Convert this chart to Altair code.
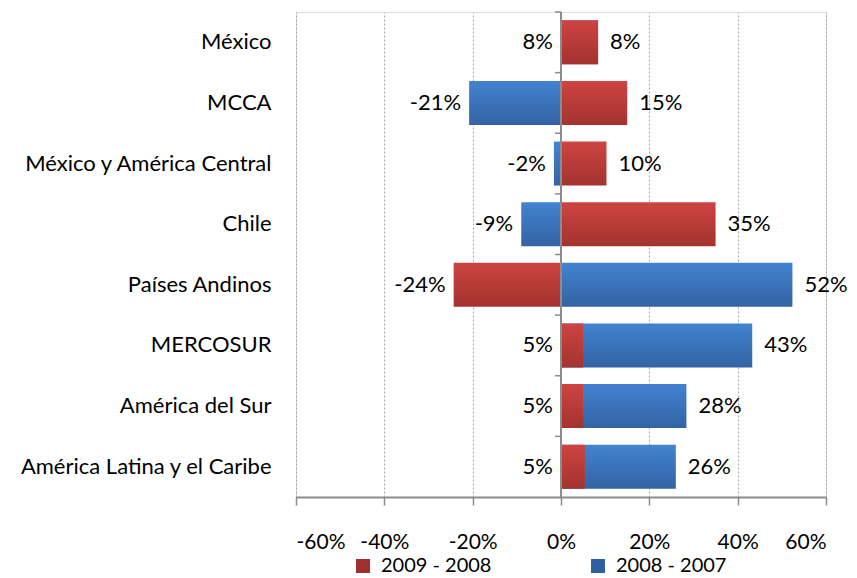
import altair as alt
import pandas as pd

categories = [
    "México",
    "MCCA",
    "México y América Central",
    "Chile",
    "Países Andinos",
    "MERCOSUR",
    "América del Sur",
    "América Latina y el Caribe",
]
s_red = "2009 - 2008"
s_blue = "2008 - 2007"
v_red = [8.4, 15.0, 10.3, 35.0, -24.3, 5.0, 5.0, 5.4]
v_blue = [8.4, -20.8, -1.6, -9.0, 52.4, 43.3, 28.4, 26.0]
x_ticks = [-60, -40, -20, 0, 20, 40, 60]

FONT = "Lato"

rows = []
for c, r, b in zip(categories, v_red, v_blue):
    pairs = [(s_blue, b), (s_red, r)]
    lo, hi = sorted(pairs, key=lambda p: p[1])
    if r == b:
        lo, hi = (s_blue, b), (s_red, r)
    for s, v in pairs:
        side = "left" if (s, v) == lo else "right"
        anchor = min(v, 0) if side == "left" else max(v, 0)
        rows.append({"cat": c, "series": s, "value": v, "side": side,
                     "anchor": anchor, "label": f"{round(v)}%"})
df = pd.DataFrame(rows)
bounds = pd.DataFrame({"cat": categories})

x_scale = alt.Scale(domain=[-60, 60], nice=False, zero=False)
y_scale = alt.Scale(domain=categories, paddingInner=0, paddingOuter=0)

X = alt.X("value:Q", scale=x_scale, stack=None, axis=alt.Axis(
    values=x_ticks, labelExpr="datum.value + '%'", title=None,
    grid=True, gridDash=[2, 2], gridColor="#A6A6A6", gridWidth=1,
    domainColor="#8C8C8C", domainWidth=2, tickColor="#8C8C8C", tickWidth=1.5,
    tickSize=8, labelPadding=26, labelFont=FONT, labelFontSize=21,
    labelColor="#000000"))
Y = alt.Y("cat:N", scale=y_scale, sort=categories, axis=alt.Axis(
    title=None, ticks=False, domain=False, grid=False, labelPadding=25,
    labelFont=FONT, labelFontSize=22, labelColor="#000000", labelLimit=400))

def grad(top, bottom):
    return alt.LinearGradient(
        gradient="linear", x1=0, x2=0, y1=0, y2=1,
        stops=[alt.GradientStop(color=top, offset=0),
               alt.GradientStop(color=bottom, offset=1)])

base = alt.Chart(df)

blue_bars = base.transform_filter(alt.datum.series == s_blue).mark_bar(
    size=44, fill=grad("#4283D0", "#3363A4")).encode(x=X, y=Y)
red_bars = base.transform_filter(alt.datum.series == s_red).mark_bar(
    size=44, fill=grad("#CE4441", "#A3332F")).encode(x=X, y=Y)

legend_layer = base.mark_bar(size=1).encode(
    x=alt.datum(0, scale=x_scale),
    x2=alt.datum(0),
    y=alt.Y("cat:N", scale=y_scale, sort=categories),
    color=alt.Color("series:N", scale=alt.Scale(
        domain=[s_red, s_blue], range=["#A0302E", "#2F5F9E"]),
        legend=alt.Legend(title=None, orient="none", direction="horizontal",
                          legendX=57, legendY=544, symbolType="square",
                          symbolSize=196, symbolStrokeWidth=0,
                          labelFont=FONT, labelFontSize=20, labelColor="#000000",
                          labelOffset=8, columnPadding=96, padding=0)))

zero_line = alt.Chart(bounds).mark_rule(color="#8C8C8C", strokeWidth=2).encode(
    x=alt.datum(0, scale=x_scale), y=alt.value(0), y2=alt.value(485))
cat_ticks = alt.Chart(bounds).mark_rule(color="#8C8C8C", strokeWidth=1.5,
                                        xOffset=-6).encode(
    x=alt.datum(0), x2=alt.datum(0),
    y=alt.Y("cat:N", scale=y_scale, sort=categories, bandPosition=0))

left_labels = base.transform_filter(alt.datum.side == "left").mark_text(
    align="right", baseline="middle", dx=-8, font=FONT, fontSize=22,
    color="#000000").encode(
    x=alt.X("anchor:Q", scale=x_scale), y=alt.Y("cat:N", scale=y_scale, sort=categories),
    text="label:N")
right_labels = base.transform_filter(alt.datum.side == "right").mark_text(
    align="left", baseline="middle", dx=12, font=FONT, fontSize=22,
    color="#000000").encode(
    x=alt.X("anchor:Q", scale=x_scale), y=alt.Y("cat:N", scale=y_scale, sort=categories),
    text="label:N")

chart = alt.layer(
    blue_bars, red_bars, legend_layer, zero_line, cat_ticks, left_labels, right_labels
).properties(
    width=530, height=485,
    autosize=alt.AutoSizeParams(type="none"),
    padding={"left": 288, "top": 4, "right": 23, "bottom": 80},
).configure_view(stroke=None).configure(background="#FFFFFF")

chart.save("out.html", embed_options={"renderer": "svg", "actions": False})
